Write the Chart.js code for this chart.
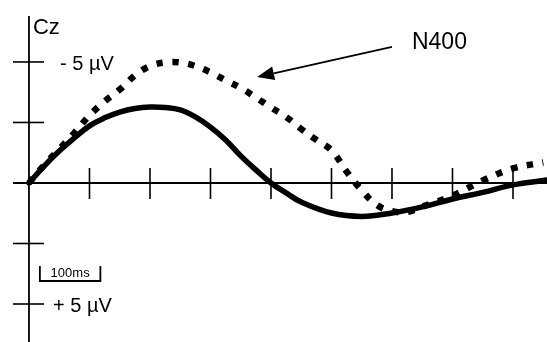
<!DOCTYPE html>
<html>
<head>
<meta charset="utf-8">
<script src="https://cdn.jsdelivr.net/npm/chart.js@4/dist/chart.umd.min.js"></script>
<style>
  html, body { margin: 0; padding: 0; background: #fff; }
  #wrap { width: 547px; height: 342px; position: relative; }
</style>
</head>
<body>
<div id="wrap"><canvas id="erp"></canvas></div>
<script>
// ERP at Cz: two conditions, time in ms, amplitude in µV (negative plotted up)
const solidTimes = [0, 25, 50, 75, 100, 125, 150, 175, 200, 225, 250, 275, 300, 325, 350, 375, 400, 425, 450, 500, 550, 600, 650, 700, 750, 800, 856];
const solidUv    = [0, -0.70, -1.32, -1.86, -2.36, -2.69, -2.93, -3.08, -3.14, -3.12, -3.02, -2.73, -2.31, -1.78, -1.12, -0.54, 0, 0.41, 0.79, 1.24, 1.38, 1.24, 0.99, 0.66, 0.39, 0.08, -0.12];

const dottedTimes = [0, 25, 50, 75, 100, 125, 150, 175, 200, 225, 250, 275, 300, 325, 350, 375, 400, 425, 450, 475, 500, 525, 550, 575, 600, 625, 650, 700, 750, 800, 850];
const dottedUv    = [0, -0.74, -1.40, -2.07, -2.79, -3.37, -3.86, -4.44, -4.83, -4.98, -4.98, -4.83, -4.57, -4.24, -3.93, -3.53, -3.12, -2.73, -2.23, -1.78, -1.35, -0.47, 0.30, 0.91, 1.16, 1.20, 0.98, 0.52, -0.10, -0.60, -0.85];

// Axis ticks
const timeTicks = [100, 200, 300, 400, 500, 600, 700, 800];   // ms
const ampTicks  = [-5, -2.5, 2.5, 5];                          // µV
const ampLabels = [{ v: -5, text: '- 5 µV' }, { v: 5, text: '+ 5 µV' }];
const channelName = 'Cz';
const componentName = 'N400';
const scaleBarMs = [18, 118];

const FONT = '"Liberation Sans", Arial, sans-serif';

const toPts = (ts, vs) => ts.map((t, i) => ({ x: t, y: vs[i] }));

const axesPlugin = {
  id: 'erpAxes',
  beforeDatasetsDraw(chart) {
    const { ctx, scales: { x, y }, chartArea } = chart;
    const x0 = x.getPixelForValue(0);
    const y0 = y.getPixelForValue(0);
    ctx.save();
    ctx.strokeStyle = '#000';
    ctx.lineWidth = 1.8;
    // vertical axis
    ctx.beginPath();
    ctx.moveTo(x0, 16);
    ctx.lineTo(x0, chartArea.bottom);
    ctx.stroke();
    // horizontal axis
    ctx.beginPath();
    ctx.moveTo(x0 - 16, y0);
    ctx.lineTo(chartArea.right, y0);
    ctx.stroke();
    // tick marks
    ctx.lineWidth = 1.6;
    timeTicks.forEach(t => {
      const px = x.getPixelForValue(t);
      ctx.beginPath();
      ctx.moveTo(px, y0 - 15);
      ctx.lineTo(px, y0 + 16);
      ctx.stroke();
    });
    ampTicks.forEach(v => {
      const py = y.getPixelForValue(v);
      ctx.beginPath();
      ctx.moveTo(x0 - 16, py);
      ctx.lineTo(x0 + 15, py);
      ctx.stroke();
    });
    // 100 ms scale bar
    const bx1 = x.getPixelForValue(scaleBarMs[0]);
    const bx2 = x.getPixelForValue(scaleBarMs[1]);
    ctx.lineWidth = 1.8;
    ctx.beginPath();
    ctx.moveTo(bx1, 266);
    ctx.lineTo(bx1, 281);
    ctx.lineTo(bx2, 281);
    ctx.lineTo(bx2, 266);
    ctx.stroke();
    ctx.fillStyle = '#000';
    ctx.font = '13px ' + FONT;
    ctx.textAlign = 'center';
    ctx.textBaseline = 'alphabetic';
    ctx.fillText('100ms', (bx1 + bx2) / 2, 277);
    ctx.restore();
  },
  afterDatasetsDraw(chart) {
    const { ctx, scales: { x, y } } = chart;
    const x0 = x.getPixelForValue(0);
    ctx.save();
    ctx.fillStyle = '#000';
    ctx.textAlign = 'left';
    ctx.textBaseline = 'alphabetic';
    ctx.font = '22px ' + FONT;
    ctx.fillText(channelName, x0 + 4, 34);
    ctx.font = '20px ' + FONT;
    ampLabels.forEach(l => {
      const py = y.getPixelForValue(l.v);
      ctx.fillText(l.text, l.v < 0 ? x0 + 31 : x0 + 24, py + 8);
    });
    // component label and arrow
    ctx.font = '23px ' + FONT;
    ctx.fillText(componentName, x.getPixelForValue(633), y.getPixelForValue(-5.52));
    const tx = x.getPixelForValue(377), ty = y.getPixelForValue(-4.38);
    const sx = x.getPixelForValue(600), sy = y.getPixelForValue(-5.62);
    const ang = Math.atan2(ty - sy, tx - sx);
    const headLen = 17, headW = 7;
    const bx = tx - headLen * Math.cos(ang), by = ty - headLen * Math.sin(ang);
    ctx.strokeStyle = '#000';
    ctx.lineWidth = 1.8;
    ctx.beginPath();
    ctx.moveTo(sx, sy);
    ctx.lineTo(bx, by);
    ctx.stroke();
    ctx.beginPath();
    ctx.moveTo(tx, ty);
    ctx.lineTo(bx + headW * Math.sin(ang), by - headW * Math.cos(ang));
    ctx.lineTo(bx - headW * Math.sin(ang), by + headW * Math.cos(ang));
    ctx.closePath();
    ctx.fill();
    ctx.restore();
  }
};

const bgPlugin = {
  id: 'whiteBg',
  beforeDraw(chart) {
    const { ctx, width, height } = chart;
    ctx.save();
    ctx.fillStyle = '#fff';
    ctx.fillRect(0, 0, width, height);
    ctx.restore();
  }
};

new Chart(document.getElementById('erp'), {
  type: 'line',
  data: {
    datasets: [
      {
        label: 'dotted',
        data: toPts(dottedTimes, dottedUv),
        borderColor: '#000',
        borderWidth: 6.5,
        borderDash: [6.5, 9.5],
        borderCapStyle: 'butt',
        tension: 0.4,
        pointRadius: 0,
        fill: false
      },
      {
        label: 'solid',
        data: toPts(solidTimes, solidUv),
        borderColor: '#000',
        borderWidth: 5.5,
        borderCapStyle: 'round',
        tension: 0.4,
        pointRadius: 0,
        fill: false
      }
    ]
  },
  options: {
    responsive: true,
    maintainAspectRatio: false,
    animation: false,
    layout: { padding: 0 },
    plugins: { legend: { display: false }, tooltip: { enabled: false } },
    scales: {
      x: { type: 'linear', min: -47.9, max: 856.2, display: false },
      y: { type: 'linear', min: -7.56, max: 6.57, reverse: true, display: false }
    }
  },
  plugins: [bgPlugin, axesPlugin]
});
</script>
</body>
</html>
